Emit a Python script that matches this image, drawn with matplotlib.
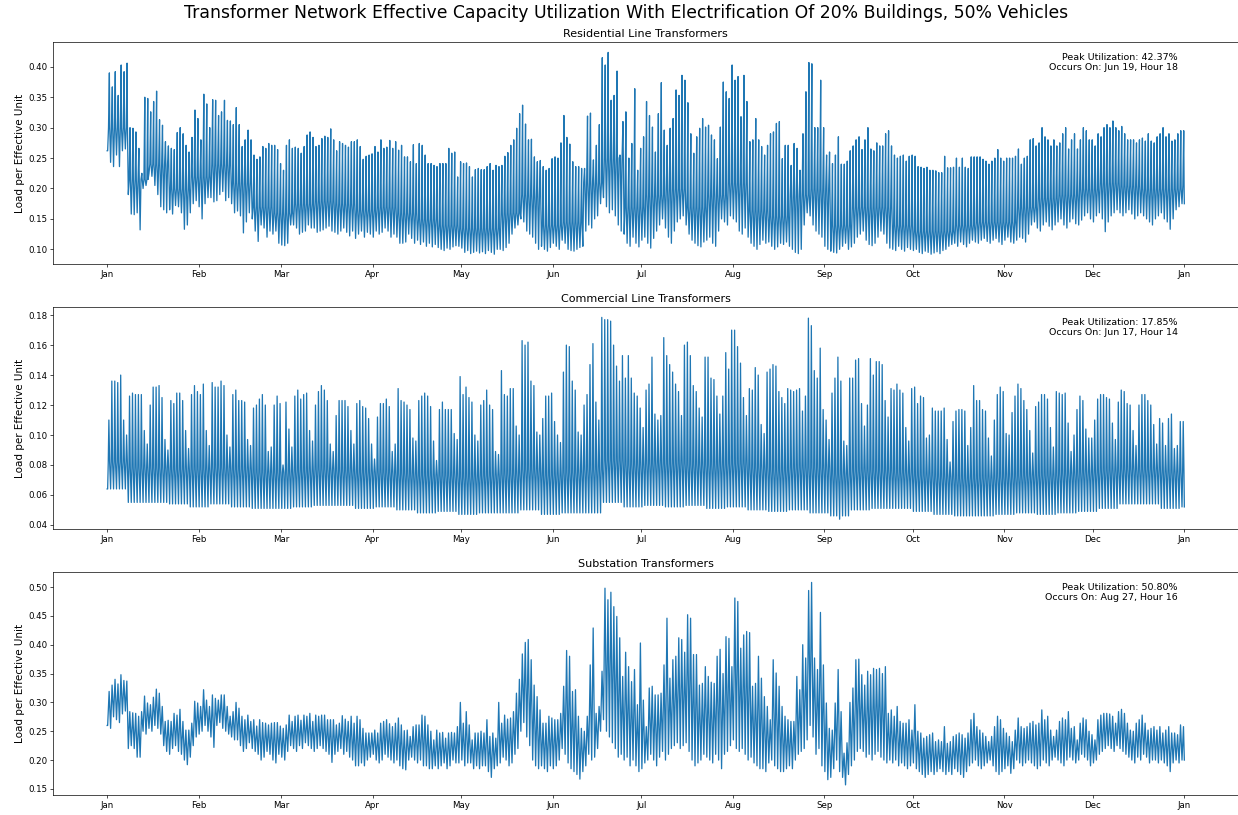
import numpy as np
import pandas as pd
import matplotlib
matplotlib.use("Agg")
import matplotlib.pyplot as plt
import matplotlib.dates as mdates

# ---------------- data ----------------
YEAR_START = "2018-01-01"

titles = ["Residential Line Transformers", "Commercial Line Transformers", "Substation Transformers"]
suptitle = "Transformer Network Effective Capacity Utilization With Electrification Of 20% Buildings, 50% Vehicles"
annotations = ["Peak Utilization: 42.37%\nOccurs On: Jun 19, Hour 18",
               "Peak Utilization: 17.85%\nOccurs On: Jun 17, Hour 14",
               "Peak Utilization: 50.80%\nOccurs On: Aug 27, Hour 16"]
month_labels_fmt = "%b"
ylabel = "Load per Effective Unit"

# daily peak values (one per day)
res_peak = [
    0.390, 0.367, 0.392, 0.353, 0.403, 0.392, 0.406,
    0.300, 0.299, 0.293, 0.266, 0.225, 0.350, 0.348,
    0.326, 0.343, 0.360, 0.313, 0.304, 0.277, 0.270,
    0.266, 0.264, 0.292, 0.300, 0.290, 0.271, 0.260,
    0.284, 0.329, 0.315, 0.280, 0.355, 0.339, 0.300,
    0.346, 0.345, 0.320, 0.326, 0.345, 0.312, 0.311,
    0.305, 0.333, 0.305, 0.269, 0.280, 0.296, 0.280,
    0.255, 0.248, 0.252, 0.269, 0.266, 0.274, 0.271,
    0.271, 0.264, 0.241, 0.230, 0.271, 0.280, 0.266,
    0.268, 0.266, 0.258, 0.269, 0.288, 0.293, 0.284,
    0.269, 0.271, 0.282, 0.286, 0.284, 0.298, 0.280,
    0.262, 0.277, 0.274, 0.271, 0.268, 0.277, 0.277,
    0.280, 0.269, 0.248, 0.253, 0.255, 0.257, 0.269,
    0.260, 0.280, 0.266, 0.268, 0.279, 0.266, 0.277,
    0.263, 0.271, 0.252, 0.252, 0.244, 0.272, 0.241,
    0.274, 0.271, 0.255, 0.241, 0.241, 0.238, 0.236,
    0.241, 0.241, 0.241, 0.266, 0.258, 0.260, 0.219,
    0.244, 0.241, 0.242, 0.236, 0.219, 0.231, 0.233,
    0.231, 0.231, 0.236, 0.241, 0.230, 0.238, 0.236,
    0.238, 0.253, 0.259, 0.271, 0.280, 0.299, 0.323,
    0.337, 0.306, 0.280, 0.281, 0.252, 0.244, 0.246,
    0.236, 0.230, 0.233, 0.249, 0.252, 0.250, 0.275,
    0.320, 0.284, 0.273, 0.244, 0.236, 0.236, 0.233,
    0.233, 0.319, 0.324, 0.247, 0.271, 0.305, 0.415,
    0.403, 0.4237, 0.345, 0.353, 0.393, 0.255, 0.310,
    0.326, 0.250, 0.274, 0.364, 0.230, 0.266, 0.285,
    0.343, 0.320, 0.301, 0.260, 0.323, 0.374, 0.296,
    0.271, 0.299, 0.315, 0.362, 0.353, 0.386, 0.378,
    0.341, 0.290, 0.258, 0.285, 0.299, 0.315, 0.301,
    0.304, 0.288, 0.280, 0.249, 0.301, 0.375, 0.359,
    0.348, 0.403, 0.378, 0.384, 0.318, 0.386, 0.343,
    0.277, 0.280, 0.315, 0.280, 0.269, 0.255, 0.271,
    0.290, 0.293, 0.307, 0.310, 0.249, 0.271, 0.271,
    0.238, 0.274, 0.266, 0.230, 0.290, 0.359, 0.407,
    0.405, 0.300, 0.300, 0.378, 0.300, 0.255, 0.260,
    0.241, 0.255, 0.285, 0.240, 0.240, 0.245, 0.262,
    0.270, 0.280, 0.285, 0.264, 0.280, 0.300, 0.265,
    0.262, 0.275, 0.270, 0.270, 0.290, 0.295, 0.270,
    0.255, 0.250, 0.253, 0.255, 0.245, 0.253, 0.255,
    0.253, 0.236, 0.235, 0.233, 0.235, 0.230, 0.230,
    0.229, 0.226, 0.226, 0.253, 0.234, 0.234, 0.235,
    0.250, 0.235, 0.250, 0.235, 0.233, 0.252, 0.252,
    0.252, 0.252, 0.248, 0.245, 0.240, 0.245, 0.250,
    0.264, 0.250, 0.245, 0.250, 0.250, 0.250, 0.253,
    0.265, 0.240, 0.250, 0.253, 0.280, 0.282, 0.270,
    0.275, 0.300, 0.285, 0.280, 0.270, 0.280, 0.270,
    0.275, 0.290, 0.300, 0.265, 0.280, 0.290, 0.265,
    0.280, 0.300, 0.295, 0.280, 0.280, 0.270, 0.290,
    0.285, 0.300, 0.305, 0.300, 0.311, 0.300, 0.295,
    0.302, 0.290, 0.280, 0.280, 0.280, 0.275, 0.280,
    0.283, 0.278, 0.290, 0.278, 0.275, 0.285, 0.290,
    0.300, 0.285, 0.290, 0.278, 0.280, 0.290, 0.295,
    0.295,
]
# daily night-time low values
res_low = [
    0.262, 0.243, 0.236, 0.255, 0.236, 0.262, 0.265,
    0.190, 0.158, 0.157, 0.160, 0.132, 0.200, 0.205,
    0.225, 0.220, 0.205, 0.190, 0.170, 0.165, 0.160,
    0.165, 0.158, 0.172, 0.170, 0.160, 0.133, 0.140,
    0.160, 0.175, 0.180, 0.170, 0.150, 0.175, 0.185,
    0.185, 0.178, 0.180, 0.190, 0.195, 0.180, 0.185,
    0.175, 0.160, 0.163, 0.155, 0.127, 0.145, 0.160,
    0.150, 0.130, 0.113, 0.140, 0.135, 0.120, 0.130,
    0.125, 0.130, 0.110, 0.107, 0.106, 0.110, 0.140,
    0.140, 0.135, 0.125, 0.128, 0.130, 0.140, 0.135,
    0.135, 0.128, 0.130, 0.132, 0.135, 0.138, 0.130,
    0.128, 0.125, 0.130, 0.135, 0.128, 0.122, 0.130,
    0.118, 0.125, 0.130, 0.120, 0.128, 0.125, 0.120,
    0.130, 0.125, 0.128, 0.135, 0.130, 0.120, 0.125,
    0.120, 0.110, 0.110, 0.112, 0.125, 0.118, 0.110,
    0.115, 0.108, 0.112, 0.105, 0.110, 0.104, 0.108,
    0.103, 0.100, 0.098, 0.102, 0.100, 0.104, 0.106,
    0.105, 0.102, 0.095, 0.098, 0.093, 0.095, 0.097,
    0.094, 0.096, 0.093, 0.098, 0.095, 0.092, 0.100,
    0.100, 0.098, 0.103, 0.110, 0.125, 0.135, 0.140,
    0.150, 0.145, 0.130, 0.125, 0.120, 0.110, 0.100,
    0.105, 0.100, 0.097, 0.103, 0.110, 0.105, 0.100,
    0.115, 0.110, 0.100, 0.098, 0.097, 0.100, 0.103,
    0.105, 0.130, 0.140, 0.135, 0.150, 0.155, 0.175,
    0.185, 0.170, 0.160, 0.165, 0.155, 0.140, 0.130,
    0.125, 0.110, 0.105, 0.120, 0.110, 0.104, 0.115,
    0.120, 0.110, 0.102, 0.118, 0.130, 0.140, 0.150,
    0.135, 0.120, 0.110, 0.130, 0.145, 0.150, 0.155,
    0.140, 0.125, 0.115, 0.110, 0.106, 0.104, 0.112,
    0.115, 0.120, 0.110, 0.105, 0.130, 0.150, 0.145,
    0.140, 0.155, 0.150, 0.145, 0.130, 0.125, 0.135,
    0.120, 0.110, 0.105, 0.100, 0.108, 0.115, 0.110,
    0.112, 0.105, 0.100, 0.104, 0.110, 0.108, 0.112,
    0.105, 0.100, 0.095, 0.093, 0.100, 0.140, 0.160,
    0.155, 0.140, 0.130, 0.125, 0.120, 0.105, 0.100,
    0.097, 0.095, 0.094, 0.100, 0.105, 0.110, 0.100,
    0.104, 0.110, 0.120, 0.125, 0.130, 0.115, 0.108,
    0.106, 0.110, 0.120, 0.130, 0.125, 0.110, 0.102,
    0.100, 0.098, 0.105, 0.100, 0.097, 0.103, 0.100,
    0.098, 0.100, 0.095, 0.093, 0.097, 0.095, 0.092,
    0.094, 0.096, 0.093, 0.098, 0.100, 0.105, 0.108,
    0.110, 0.105, 0.112, 0.108, 0.104, 0.110, 0.115,
    0.112, 0.110, 0.115, 0.118, 0.113, 0.110, 0.115,
    0.118, 0.112, 0.108, 0.115, 0.120, 0.112, 0.110,
    0.115, 0.120, 0.118, 0.112, 0.125, 0.140, 0.145,
    0.135, 0.130, 0.140, 0.145, 0.138, 0.132, 0.140,
    0.145, 0.150, 0.140, 0.135, 0.145, 0.150, 0.142,
    0.140, 0.148, 0.155, 0.160, 0.150, 0.145, 0.155,
    0.160, 0.150, 0.129, 0.145, 0.155, 0.160, 0.165,
    0.160, 0.155, 0.160, 0.165, 0.158, 0.150, 0.155,
    0.160, 0.155, 0.150, 0.145, 0.140, 0.150, 0.155,
    0.160, 0.150, 0.145, 0.133, 0.150, 0.165, 0.170,
    0.175,
]
# weekly daytime level (top of the dense band, one per week)
res_base = [0.300, 0.215, 0.240, 0.200, 0.220, 0.240, 0.210, 0.170, 0.160, 0.175,
            0.180, 0.175, 0.165, 0.170, 0.160, 0.150, 0.140, 0.135, 0.135, 0.160,
            0.190, 0.140, 0.145, 0.210, 0.250, 0.170, 0.190, 0.200, 0.170, 0.190,
            0.210, 0.165, 0.155, 0.190, 0.200, 0.140, 0.170, 0.170, 0.140, 0.130,
            0.130, 0.140, 0.145, 0.145, 0.170, 0.185, 0.190, 0.200, 0.210, 0.205,
            0.200, 0.200, 0.205]

com_peak = [
    0.110, 0.136, 0.136, 0.135, 0.140, 0.110, 0.100,
    0.126, 0.128, 0.127, 0.127, 0.127, 0.103, 0.094,
    0.120, 0.132, 0.132, 0.133, 0.125, 0.097, 0.090,
    0.123, 0.121, 0.128, 0.128, 0.123, 0.103, 0.091,
    0.127, 0.133, 0.129, 0.127, 0.134, 0.103, 0.093,
    0.135, 0.132, 0.132, 0.136, 0.133, 0.100, 0.092,
    0.127, 0.130, 0.123, 0.123, 0.122, 0.097, 0.093,
    0.118, 0.120, 0.124, 0.127, 0.120, 0.089, 0.092,
    0.120, 0.126, 0.121, 0.080, 0.122, 0.104, 0.092,
    0.126, 0.130, 0.124, 0.127, 0.128, 0.103, 0.096,
    0.120, 0.129, 0.133, 0.130, 0.123, 0.094, 0.089,
    0.113, 0.123, 0.123, 0.123, 0.119, 0.103, 0.094,
    0.121, 0.123, 0.119, 0.118, 0.111, 0.094, 0.084,
    0.112, 0.121, 0.121, 0.124, 0.119, 0.089, 0.094,
    0.131, 0.123, 0.122, 0.120, 0.117, 0.098, 0.096,
    0.123, 0.126, 0.128, 0.126, 0.119, 0.096, 0.083,
    0.117, 0.122, 0.117, 0.117, 0.117, 0.101, 0.097,
    0.139, 0.127, 0.132, 0.125, 0.122, 0.100, 0.096,
    0.120, 0.123, 0.130, 0.120, 0.117, 0.089, 0.087,
    0.143, 0.127, 0.126, 0.131, 0.131, 0.106, 0.100,
    0.163, 0.160, 0.162, 0.136, 0.133, 0.102, 0.100,
    0.111, 0.126, 0.126, 0.128, 0.109, 0.100, 0.095,
    0.142, 0.160, 0.159, 0.136, 0.130, 0.102, 0.100,
    0.120, 0.127, 0.147, 0.161, 0.122, 0.110, 0.1785,
    0.177, 0.177, 0.176, 0.160, 0.146, 0.136, 0.153,
    0.138, 0.153, 0.138, 0.128, 0.126, 0.118, 0.105,
    0.130, 0.134, 0.152, 0.114, 0.110, 0.113, 0.165,
    0.153, 0.147, 0.142, 0.134, 0.129, 0.113, 0.160,
    0.162, 0.153, 0.133, 0.129, 0.118, 0.112, 0.152,
    0.152, 0.138, 0.137, 0.126, 0.114, 0.126, 0.155,
    0.144, 0.170, 0.170, 0.159, 0.148, 0.125, 0.113,
    0.131, 0.130, 0.145, 0.140, 0.107, 0.101, 0.142,
    0.144, 0.147, 0.146, 0.129, 0.125, 0.121, 0.131,
    0.130, 0.129, 0.130, 0.131, 0.116, 0.126, 0.178,
    0.173, 0.143, 0.138, 0.158, 0.117, 0.110, 0.097,
    0.128, 0.138, 0.152, 0.136, 0.096, 0.093, 0.138,
    0.138, 0.150, 0.151, 0.121, 0.106, 0.120, 0.151,
    0.140, 0.149, 0.149, 0.147, 0.123, 0.112, 0.131,
    0.130, 0.134, 0.130, 0.128, 0.105, 0.096, 0.131,
    0.132, 0.121, 0.126, 0.125, 0.098, 0.100, 0.118,
    0.116, 0.116, 0.116, 0.118, 0.097, 0.082, 0.109,
    0.116, 0.117, 0.117, 0.116, 0.093, 0.105, 0.133,
    0.123, 0.123, 0.117, 0.116, 0.098, 0.086, 0.110,
    0.127, 0.132, 0.129, 0.101, 0.100, 0.115, 0.126,
    0.134, 0.131, 0.123, 0.117, 0.103, 0.088, 0.119,
    0.122, 0.127, 0.127, 0.124, 0.105, 0.092, 0.129,
    0.128, 0.127, 0.128, 0.108, 0.089, 0.100, 0.117,
    0.126, 0.123, 0.104, 0.098, 0.098, 0.110, 0.124,
    0.127, 0.127, 0.125, 0.124, 0.108, 0.097, 0.122,
    0.130, 0.129, 0.121, 0.120, 0.103, 0.093, 0.120,
    0.127, 0.127, 0.123, 0.120, 0.107, 0.094, 0.111,
    0.108, 0.093, 0.111, 0.114, 0.091, 0.093, 0.109,
    0.109,
]
# weekly night-time low values (one per week)
com_low = [0.064, 0.055, 0.055, 0.054, 0.052, 0.054, 0.052, 0.051, 0.051, 0.052,
           0.053, 0.053, 0.051, 0.052, 0.050, 0.048, 0.049, 0.047, 0.048, 0.048,
           0.050, 0.047, 0.048, 0.048, 0.055, 0.052, 0.053, 0.052, 0.053, 0.051,
           0.052, 0.050, 0.049, 0.050, 0.048, 0.046, 0.050, 0.051, 0.051, 0.049,
           0.047, 0.046, 0.046, 0.047, 0.048, 0.047, 0.048, 0.049, 0.051, 0.054,
           0.054, 0.051, 0.052]
com_dips = {248: 0.0438}
# weekly shoulder level (top of the dense band, one per week)
com_base = [0.082, 0.078, 0.078, 0.077, 0.077, 0.078, 0.077, 0.075, 0.075, 0.076,
            0.077, 0.076, 0.075, 0.075, 0.074, 0.073, 0.073, 0.072, 0.073, 0.074,
            0.077, 0.073, 0.075, 0.077, 0.083, 0.080, 0.081, 0.081, 0.080, 0.080,
            0.081, 0.078, 0.076, 0.078, 0.078, 0.074, 0.076, 0.076, 0.075, 0.073,
            0.072, 0.071, 0.071, 0.072, 0.073, 0.073, 0.074, 0.075, 0.076, 0.077,
            0.077, 0.075, 0.075]

sub_peak = [
    0.319, 0.330, 0.340, 0.332, 0.348, 0.338, 0.337,
    0.284, 0.282, 0.281, 0.276, 0.284, 0.311, 0.299,
    0.296, 0.309, 0.323, 0.316, 0.293, 0.267, 0.269,
    0.267, 0.281, 0.278, 0.288, 0.267, 0.252, 0.252,
    0.264, 0.302, 0.299, 0.293, 0.322, 0.304, 0.293,
    0.313, 0.307, 0.304, 0.313, 0.313, 0.293, 0.276,
    0.284, 0.300, 0.290, 0.276, 0.270, 0.278, 0.267,
    0.270, 0.259, 0.270, 0.265, 0.264, 0.261, 0.264,
    0.265, 0.265, 0.259, 0.255, 0.261, 0.278, 0.267,
    0.276, 0.278, 0.269, 0.278, 0.276, 0.281, 0.267,
    0.278, 0.276, 0.278, 0.278, 0.270, 0.270, 0.270,
    0.261, 0.264, 0.277, 0.271, 0.267, 0.276, 0.264,
    0.276, 0.270, 0.255, 0.247, 0.247, 0.247, 0.252,
    0.247, 0.264, 0.267, 0.270, 0.263, 0.258, 0.264,
    0.273, 0.261, 0.251, 0.252, 0.241, 0.258, 0.261,
    0.261, 0.278, 0.276, 0.261, 0.250, 0.235, 0.252,
    0.247, 0.248, 0.238, 0.247, 0.248, 0.247, 0.258,
    0.300, 0.264, 0.284, 0.261, 0.235, 0.247, 0.247,
    0.250, 0.247, 0.270, 0.241, 0.247, 0.238, 0.300,
    0.264, 0.278, 0.271, 0.273, 0.284, 0.316, 0.340,
    0.384, 0.404, 0.409, 0.374, 0.330, 0.310, 0.287,
    0.264, 0.264, 0.276, 0.273, 0.270, 0.270, 0.281,
    0.328, 0.390, 0.380, 0.319, 0.322, 0.276, 0.255,
    0.250, 0.276, 0.365, 0.429, 0.281, 0.293, 0.354,
    0.498, 0.478, 0.491, 0.466, 0.449, 0.412, 0.345,
    0.387, 0.362, 0.336, 0.357, 0.296, 0.403, 0.304,
    0.258, 0.325, 0.328, 0.313, 0.313, 0.316, 0.365,
    0.446, 0.342, 0.374, 0.380, 0.412, 0.409, 0.387,
    0.452, 0.446, 0.383, 0.383, 0.330, 0.333, 0.362,
    0.345, 0.335, 0.333, 0.380, 0.392, 0.350, 0.414,
    0.411, 0.362, 0.481, 0.475, 0.394, 0.417, 0.423,
    0.421, 0.328, 0.333, 0.380, 0.342, 0.310, 0.293,
    0.270, 0.374, 0.351, 0.328, 0.293, 0.276, 0.270,
    0.267, 0.267, 0.345, 0.322, 0.400, 0.377, 0.494,
    0.508, 0.377, 0.357, 0.456, 0.365, 0.299, 0.255,
    0.252, 0.299, 0.357, 0.284, 0.212, 0.230, 0.300,
    0.325, 0.374, 0.375, 0.348, 0.330, 0.354, 0.348,
    0.359, 0.357, 0.359, 0.350, 0.362, 0.281, 0.287,
    0.276, 0.293, 0.267, 0.264, 0.264, 0.270, 0.252,
    0.296, 0.250, 0.247, 0.238, 0.241, 0.244, 0.247,
    0.232, 0.235, 0.232, 0.258, 0.229, 0.232, 0.241,
    0.244, 0.247, 0.244, 0.238, 0.247, 0.270, 0.281,
    0.258, 0.252, 0.247, 0.241, 0.232, 0.241, 0.258,
    0.276, 0.270, 0.255, 0.247, 0.241, 0.232, 0.252,
    0.273, 0.258, 0.255, 0.258, 0.264, 0.267, 0.261,
    0.264, 0.287, 0.270, 0.276, 0.252, 0.241, 0.252,
    0.267, 0.273, 0.270, 0.284, 0.255, 0.258, 0.235,
    0.264, 0.273, 0.270, 0.250, 0.244, 0.235, 0.270,
    0.278, 0.281, 0.281, 0.280, 0.276, 0.264, 0.284,
    0.288, 0.281, 0.264, 0.252, 0.250, 0.264, 0.270,
    0.278, 0.264, 0.252, 0.255, 0.258, 0.252, 0.258,
    0.247, 0.252, 0.258, 0.247, 0.247, 0.244, 0.261,
    0.258,
]
sub_low = [
    0.260, 0.255, 0.275, 0.270, 0.265, 0.280, 0.285,
    0.220, 0.225, 0.220, 0.205, 0.205, 0.250, 0.245,
    0.255, 0.250, 0.260, 0.255, 0.245, 0.225, 0.215,
    0.210, 0.220, 0.225, 0.215, 0.210, 0.200, 0.192,
    0.205, 0.225, 0.240, 0.245, 0.250, 0.260, 0.250,
    0.240, 0.222, 0.260, 0.265, 0.255, 0.250, 0.245,
    0.240, 0.235, 0.235, 0.225, 0.215, 0.220, 0.230,
    0.220, 0.215, 0.210, 0.200, 0.205, 0.215, 0.210,
    0.200, 0.195, 0.210, 0.205, 0.200, 0.215, 0.225,
    0.220, 0.215, 0.225, 0.220, 0.230, 0.225, 0.220,
    0.215, 0.220, 0.225, 0.220, 0.215, 0.210, 0.196,
    0.210, 0.215, 0.220, 0.210, 0.215, 0.205, 0.200,
    0.190, 0.190, 0.195, 0.190, 0.200, 0.205, 0.210,
    0.200, 0.195, 0.200, 0.210, 0.205, 0.200, 0.195,
    0.200, 0.190, 0.185, 0.183, 0.200, 0.205, 0.200,
    0.195, 0.200, 0.190, 0.190, 0.185, 0.185, 0.190,
    0.185, 0.190, 0.195, 0.185, 0.190, 0.200, 0.195,
    0.195, 0.200, 0.190, 0.195, 0.195, 0.185, 0.190,
    0.185, 0.190, 0.190, 0.180, 0.170, 0.185, 0.190,
    0.195, 0.205, 0.200, 0.190, 0.195, 0.210, 0.220,
    0.250, 0.265, 0.240, 0.225, 0.200, 0.190, 0.185,
    0.190, 0.185, 0.180, 0.190, 0.185, 0.190, 0.200,
    0.220, 0.210, 0.195, 0.185, 0.180, 0.175, 0.167,
    0.180, 0.190, 0.210, 0.200, 0.205, 0.220, 0.250,
    0.270, 0.250, 0.240, 0.230, 0.220, 0.205, 0.210,
    0.200, 0.205, 0.190, 0.200, 0.190, 0.180, 0.185,
    0.195, 0.200, 0.210, 0.200, 0.190, 0.205, 0.215,
    0.200, 0.210, 0.220, 0.225, 0.230, 0.220, 0.225,
    0.230, 0.215, 0.200, 0.190, 0.195, 0.200, 0.210,
    0.205, 0.200, 0.195, 0.210, 0.200, 0.185, 0.210,
    0.215, 0.225, 0.235, 0.220, 0.215, 0.220, 0.210,
    0.200, 0.205, 0.195, 0.190, 0.185, 0.185, 0.180,
    0.195, 0.200, 0.190, 0.185, 0.180, 0.180, 0.185,
    0.190, 0.185, 0.200, 0.210, 0.215, 0.220, 0.235,
    0.260, 0.240, 0.210, 0.220, 0.190, 0.180, 0.166,
    0.170, 0.185, 0.200, 0.180, 0.170, 0.157, 0.175,
    0.190, 0.200, 0.215, 0.220, 0.215, 0.205, 0.210,
    0.200, 0.210, 0.215, 0.205, 0.200, 0.195, 0.200,
    0.195, 0.200, 0.190, 0.195, 0.190, 0.185, 0.190,
    0.195, 0.185, 0.180, 0.175, 0.170, 0.175, 0.180,
    0.175, 0.180, 0.185, 0.180, 0.175, 0.180, 0.175,
    0.185, 0.180, 0.175, 0.170, 0.180, 0.190, 0.195,
    0.200, 0.190, 0.185, 0.190, 0.195, 0.200, 0.190,
    0.180, 0.175, 0.180, 0.185, 0.190, 0.177, 0.185,
    0.200, 0.195, 0.190, 0.195, 0.200, 0.195, 0.190,
    0.185, 0.190, 0.200, 0.195, 0.190, 0.200, 0.205,
    0.200, 0.195, 0.190, 0.200, 0.205, 0.200, 0.195,
    0.200, 0.210, 0.205, 0.200, 0.190, 0.195, 0.200,
    0.210, 0.215, 0.220, 0.225, 0.220, 0.215, 0.225,
    0.220, 0.215, 0.210, 0.205, 0.200, 0.195, 0.205,
    0.200, 0.210, 0.205, 0.195, 0.200, 0.200, 0.195,
    0.200, 0.195, 0.190, 0.180, 0.195, 0.200, 0.195,
    0.200,
]

# daily shape: (hour of day, which level)
res_profile = [(4, "low"), (11, "base"), (18, "peak"), (21, "base")]
com_profile = [(4, "low"), (9, "base"), (14, "peak"), (20, "base")]
sub_profile = [(4, "low"), (16, "peak")]


def pick(arr, d):
    return arr[d // 7] if len(arr) < 365 else arr[d]


def build(peaks, lows, profile, bases=None, dips=None):
    dips = dips or {}
    start = pd.Timestamp(YEAR_START)
    n = len(peaks)
    times, vals = [], []
    for d in range(n):
        lv = {"peak": peaks[d], "low": dips.get(d, pick(lows, d)),
              "base": pick(bases, d) if bases is not None else None}
        if d == 0:
            times.append(start)
            vals.append(lv["low"])
        for h, kind in profile:
            times.append(start + pd.Timedelta(hours=d * 24 + h))
            vals.append(lv[kind])
        if d == n - 1:
            times.append(start + pd.Timedelta(hours=d * 24 + 23))
            vals.append(lv["low"])
    return pd.to_datetime(times), np.array(vals)


series = [build(res_peak, res_low, res_profile, res_base),
          build(com_peak, com_low, com_profile, com_base, com_dips),
          build(sub_peak, sub_low, sub_profile)]

# ---------------- figure ----------------
DPI = 61.9
fig = plt.figure(figsize=(1238 / DPI, 815 / DPI), dpi=DPI)

W, H = 1238.0, 815.0
axes_px = [(42.3, 264.3), (307.3, 529.3), (572.3, 795.0)]
left_px, right_px = 53.3, 1238.2

for i, (t, v) in enumerate(series):
    top, bot = axes_px[i]
    ax = fig.add_axes([left_px / W, 1 - bot / H, (right_px - left_px) / W, (bot - top) / H])
    ax.plot(t, v, color="#1f77b4", lw=1.5)
    ax.set_title(titles[i], fontsize=13)
    ax.set_ylabel(ylabel, fontsize=12)
    ax.tick_params(labelsize=10)
    ax.xaxis.set_major_locator(mdates.MonthLocator())
    ax.xaxis.set_major_formatter(mdates.DateFormatter(month_labels_fmt))
    ax.text(0.949, 0.953, annotations[i], transform=ax.transAxes,
            ha="right", va="top", fontsize=11)

fig.suptitle(suptitle, fontsize=20, x=0.5056, y=1 - 13.5 / H, va="center")
fig.savefig("out.png", dpi=DPI)
